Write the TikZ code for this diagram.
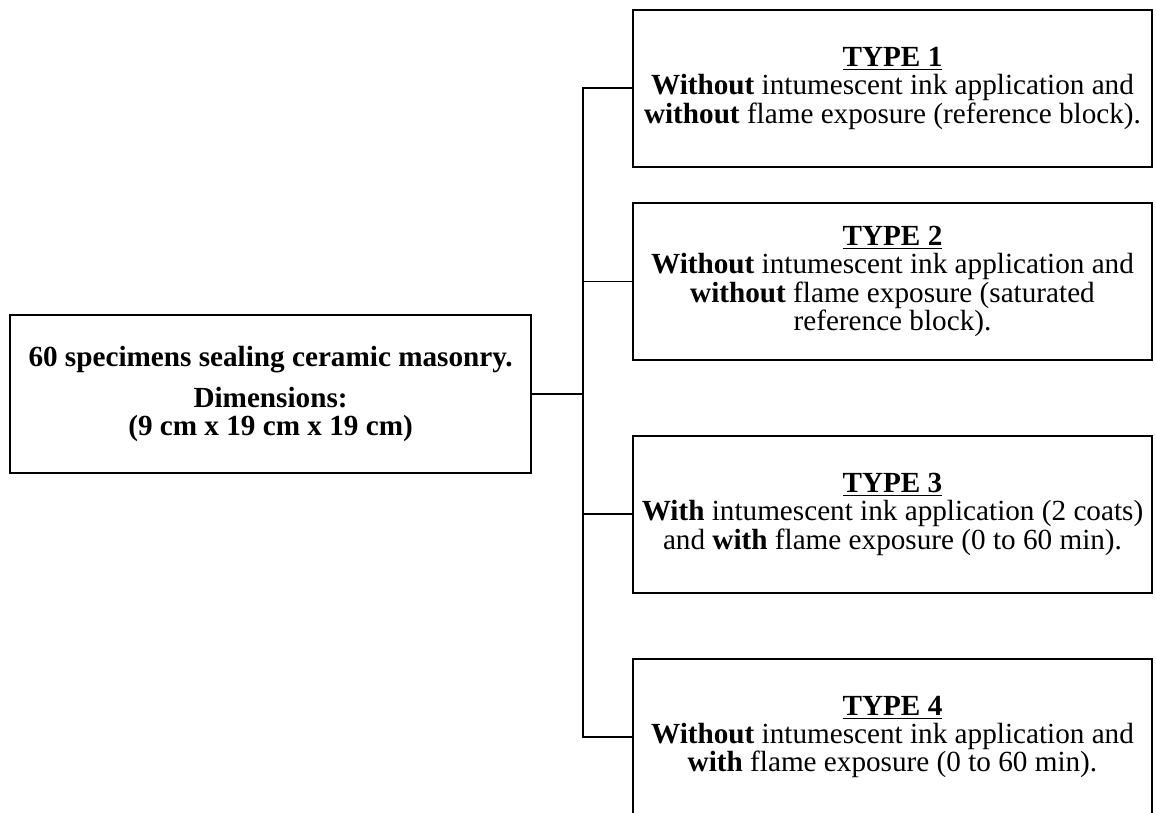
\documentclass[tikz,border=0pt]{standalone}
\usepackage{fontspec}
\setmainfont{Liberation Serif}
\usepackage{tikz}
\tikzset{
  specbox/.style={draw, line width=0.8pt, minimum width=214.1pt, minimum height=64.9pt, inner sep=0pt, align=center, font=\bfseries\fontsize{12}{11.7}\selectfont},
  typebox/.style={draw, line width=0.8pt, minimum width=213.3pt, minimum height=64.5pt, inner sep=0pt, align=center, font=\fontsize{12}{11.7}\selectfont},
  branch/.style={line width=0.8pt},
}

\begin{document}
\begin{tikzpicture}[x=1pt,y=1pt]
\useasboundingbox (0,0) rectangle (475.1,-334.1);
\node[specbox] (specimens) at (111.2,-161.9) {60 specimens sealing ceramic masonry.\\[5pt] Dimensions:\\ (9 cm x 19 cm x 19 cm)};
\node[typebox] (type1) at (366.8,-36.2) {\underline{\textbf{TYPE 1}}\\ \textbf{Without} intumescent ink application and\\ \textbf{without} flame exposure (reference block).};
\node[typebox] (type2) at (366.8,-115.7) {\underline{\textbf{TYPE 2}}\\ \textbf{Without} intumescent ink application and\\ \textbf{without} flame exposure (saturated\\ reference block).};
\node[typebox] (type3) at (366.8,-211.3) {\underline{\textbf{TYPE 3}}\\ \textbf{With} intumescent ink application (2 coats)\\ and \textbf{with} flame exposure (0 to 60 min).};
\node[typebox] (type4) at (366.8,-302.9) {\underline{\textbf{TYPE 4}}\\ \textbf{Without} intumescent ink application and\\ \textbf{with} flame exposure (0 to 60 min).};
\coordinate (fork) at (239.6,-161.9);
\draw[branch] (specimens.east) -- (fork);
\draw[branch] (fork) |- (type1.west);
\draw[branch] (fork) |- (type2.west);
\draw[branch] (fork) |- (type3.west);
\draw[branch] (fork) |- (type4.west);
\end{tikzpicture}
\end{document}
